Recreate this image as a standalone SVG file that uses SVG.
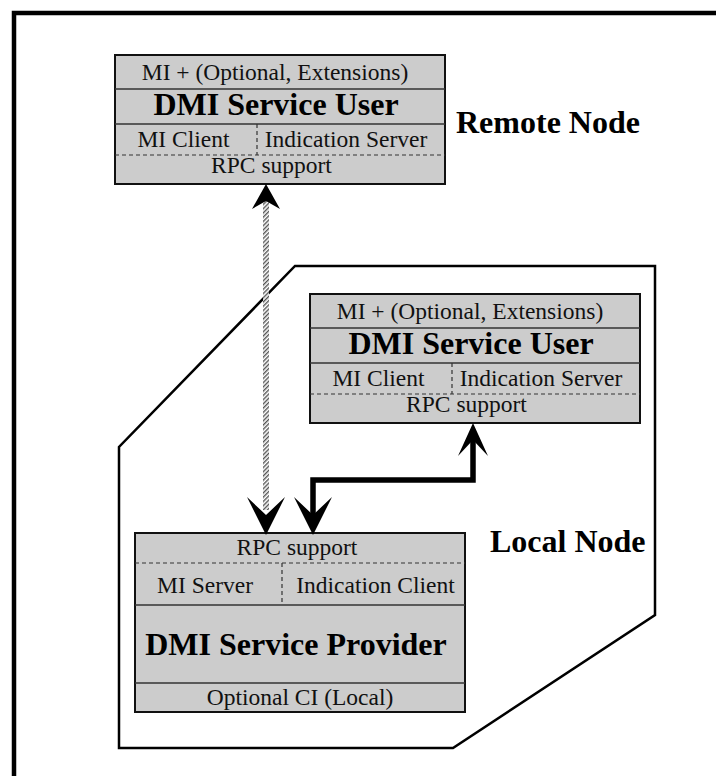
<svg xmlns="http://www.w3.org/2000/svg" width="716" height="776" viewBox="0 0 716 776">
<style>
.box{fill:#cccccc;stroke:#111;stroke-width:2}
.div{stroke:#333;stroke-width:1.5;fill:none}
.dash{stroke:#333;stroke-width:1.2;stroke-dasharray:4 3;fill:none}
.t{font-family:"Liberation Serif","Times New Roman",serif;font-size:23.5px;fill:#111;text-anchor:middle}
.b{font-family:"Liberation Serif","Times New Roman",serif;font-size:32px;font-weight:bold;fill:#000;text-anchor:middle}
.lbl{font-family:"Liberation Serif","Times New Roman",serif;font-size:32px;font-weight:bold;fill:#000}
.head{fill:#000}
</style>
<defs>
<pattern id="hatch" width="3" height="3" patternUnits="userSpaceOnUse" patternTransform="rotate(45)">
<rect width="3" height="3" fill="#fff"/><rect width="1.4" height="3" fill="#555"/>
</pattern>
</defs>
<rect width="716" height="776" fill="#fff"/>
<path id="frame" d="M14,776 V13 H716" fill="none" stroke="#000" stroke-width="4.5"/>

<g id="local-node">
<polygon points="119,748 119,447 295,266 655,266 655,615 453,748" fill="none" stroke="#000" stroke-width="2.5"/>
<text class="lbl" x="490" y="552">Local Node</text>
</g>

<g id="remote-user">
<rect class="box" x="115" y="55" width="330" height="129"/>
<line class="div" x1="115" y1="89" x2="445" y2="89"/>
<line class="div" x1="115" y1="124" x2="445" y2="124"/>
<line class="dash" x1="115" y1="155" x2="445" y2="155"/>
<line class="dash" x1="257" y1="124" x2="257" y2="155"/>
<text class="t" x="275" y="80">MI + (Optional, Extensions)</text>
<text class="b" x="276" y="115">DMI Service User</text>
<text class="t" x="183.5" y="147">MI Client</text>
<text class="t" x="346" y="147">Indication Server</text>
<text class="t" x="271.5" y="173">RPC support</text>
</g>
<text id="remote-label" class="lbl" x="456" y="133">Remote Node</text>

<g id="local-user">
<rect class="box" x="310" y="294" width="330" height="129"/>
<line class="div" x1="310" y1="328" x2="640" y2="328"/>
<line class="div" x1="310" y1="363" x2="640" y2="363"/>
<line class="dash" x1="310" y1="394" x2="640" y2="394"/>
<line class="dash" x1="452" y1="363" x2="452" y2="394"/>
<text class="t" x="470" y="319">MI + (Optional, Extensions)</text>
<text class="b" x="471" y="354">DMI Service User</text>
<text class="t" x="378.5" y="386">MI Client</text>
<text class="t" x="541" y="386">Indication Server</text>
<text class="t" x="466.5" y="412">RPC support</text>
</g>

<g id="provider">
<rect class="box" x="135" y="533" width="330" height="179"/>
<line class="dash" x1="135" y1="563" x2="465" y2="563"/>
<line class="dash" x1="282" y1="563" x2="282" y2="605"/>
<line class="div" x1="135" y1="605" x2="465" y2="605"/>
<line class="div" x1="135" y1="683" x2="465" y2="683"/>
<text class="t" x="297" y="555">RPC support</text>
<text class="t" x="205" y="593">MI Server</text>
<text class="t" x="375.5" y="593">Indication Client</text>
<text class="b" x="296" y="655">DMI Service Provider</text>
<text class="t" x="300" y="705">Optional CI (Local)</text>
</g>

<g id="connectors">
<rect x="263" y="198" width="6" height="312" fill="url(#hatch)"/>
<polygon class="head" points="266,184 280,209 266,201 252,209"/>
<polygon class="head" points="266,535 285,497 266,515 247,497"/>
<path d="M313,516 V480 H473 V440" fill="none" stroke="#000" stroke-width="5.5"/>
<polygon class="head" points="313,535 332,497 313,515 294,497"/>
<polygon class="head" points="473,423 488,456 473,440 458,456"/>
</g>
</svg>
